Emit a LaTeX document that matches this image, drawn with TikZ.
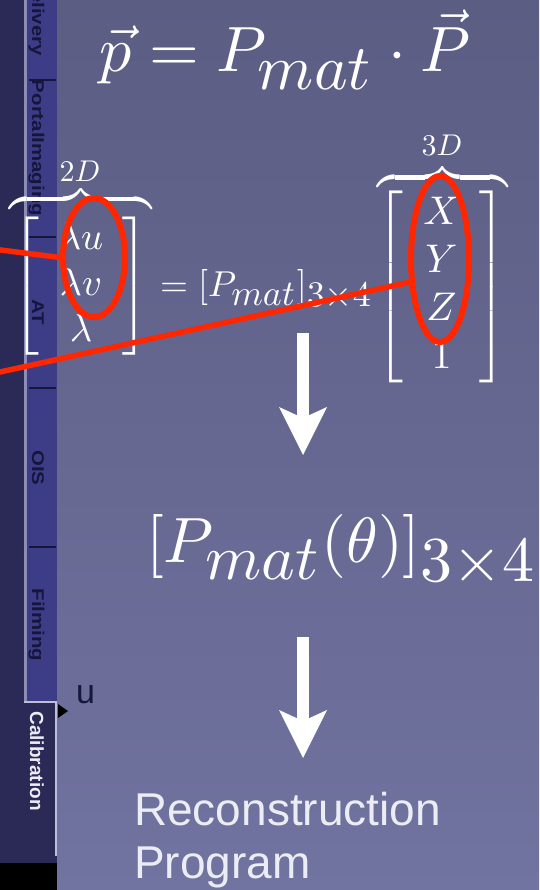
\documentclass[tikz,border=0pt]{standalone}
\usepackage{graphicx}
\usepackage{amsmath}
\usepackage{fontspec}
\newfontfamily\arial{Liberation Sans}
\DeclareMathSizes{10}{10}{10}{7}
\usetikzlibrary{shapes.geometric,arrows.meta}
\definecolor{bgtop}{RGB}{92,93,131}
\definecolor{bgbot}{RGB}{113,115,160}
\definecolor{darkleft}{RGB}{43,42,86}
\definecolor{tabblue}{RGB}{60,60,135}
\definecolor{tabline}{RGB}{140,140,180}
\definecolor{selline}{RGB}{190,190,215}
\definecolor{tabtext}{RGB}{22,22,60}
\definecolor{redmark}{RGB}{255,38,0}
\definecolor{recon}{RGB}{236,236,244}
\newcommand{\tabword}[1]{\scalebox{1.2}[1]{#1}}
\tikzset{
  tabtxt/.style={font=\arial\bfseries\fontsize{17}{17}\selectfont, text=tabtext, rotate=-90, anchor=base, inner sep=0pt},
  seltxt/.style={font=\arial\bfseries\fontsize{19}{19}\selectfont, text=recon, rotate=-90, anchor=base, inner sep=0pt},
  mathtxt/.style={text=white, inner sep=0pt},
  recontxt/.style={font=\arial\fontsize{46}{53}\selectfont, text=recon, anchor=base west, inner sep=0pt},
  bigarrow/.style={white, line width=12pt, -{Stealth[length=48pt, width=48pt, inset=11pt, line width=0pt]}},
  redell/.style={ellipse, draw=redmark, line width=6pt, inner sep=0pt},
  redline/.style={draw=redmark, line width=5.5pt},
  tabsep/.style={draw=tabtext, line width=1.5pt}
}
\begin{document}
\begin{tikzpicture}[x=1pt,y=-1pt]
\useasboundingbox (0,0) rectangle (539,890);
\shade[top color=bgtop, bottom color=bgbot] (0,0) rectangle (539,890);
% left tab strip
\fill[darkleft] (0,0) rectangle (57,890);
\fill[tabblue] (27,0) rectangle (57,702);
\draw[tabline, line width=3pt] (25.5,0) -- (25.5,702);
\draw[selline, line width=2pt] (24,702) -- (55.5,702) -- (55.5,856);
\draw[tabsep] (29,80) -- (56,80);
\draw[tabsep] (29,237) -- (56,237);
\draw[tabsep] (29,388) -- (56,388);
\draw[tabsep] (29,547) -- (56,547);
\fill[black] (0,863) rectangle (57,890);
\fill[black] (58,704) -- (68,711) -- (58,718) -- cycle;
\node[tabtxt] (tdel) at (32,16) {\tabword{Delivery}};
\node[tabtxt] (tpor) at (32,148) {\tabword{PortalImaging}};
\node[tabtxt] (tat) at (32,312) {\tabword{AT}};
\node[tabtxt] (tois) at (32,468) {\tabword{OIS}};
\node[tabtxt] (tfil) at (32,625) {\tabword{Filming}};
\node[seltxt] (tcal) at (30,761) {Calibration};
\node[font=\arial\fontsize{34}{34}\selectfont, text=tabtext, anchor=base west, inner sep=0pt] (ulab) at (76,703) {u};
% equations
\node[mathtxt, anchor=base west] (eqtop) at (99,72) {\scalebox{6.4}{$\vec{p}=P_{mat}\cdot\vec{P}$}};
\node[mathtxt] (m2d) at (81,286) {\scalebox{3.85}{$\left[\begin{array}{c}\lambda u\\ \lambda v\\ \lambda\end{array}\right]$}};
\node[mathtxt, anchor=base west] (eqmid) at (160,296) {\scalebox{3.6}{$=[P_{mat}]_{3\times 4}$}};
\node[mathtxt] (m3d) at (441.5,287) {\scalebox{4}{$\left[\begin{array}{c}X\\ Y\\ Z\\ 1\end{array}\right]$}};
\node[mathtxt, anchor=north] (b2d) at (81,185) {\scalebox{3.85}{$\overbrace{\hspace{36.9pt}}$}};
\node[mathtxt, anchor=north] (b3d) at (442.5,163.5) {\scalebox{3.85}{$\overbrace{\hspace{33.8pt}}$}};
\node[mathtxt] (l2d) at (80,171) {\scalebox{3}{$2D$}};
\node[mathtxt] (l3d) at (442,145) {\scalebox{3}{$3D$}};
\node[mathtxt, anchor=base west] (eqth) at (146,562) {\scalebox{6.4}{$[P_{mat}(\theta)]_{3\times 4}$}};
\node[recontxt] (rec1) at (134,825) {Reconstruction};
\node[recontxt] (rec2) at (134,878) {Program};
% arrows
\coordinate (a1s) at (303,333);
\coordinate (a1e) at (303,455);
\coordinate (a2s) at (303,637);
\coordinate (a2e) at (303,758);
\draw[bigarrow] (a1s) -- (a1e);
\draw[bigarrow] (a2s) -- (a2e);
% red marks
\node[redell, minimum width=62pt, minimum height=119pt] (e1) at (94,257.5) {};
\node[redell, minimum width=58pt, minimum height=166pt] (e2) at (440,259) {};
\coordinate (r1) at (-5,249.3);
\coordinate (r2) at (-5,373.1);
\draw[redline] (r1) -- (e1.west);
\draw[redline] (r2) -- (e2.217);
\end{tikzpicture}
\end{document}
